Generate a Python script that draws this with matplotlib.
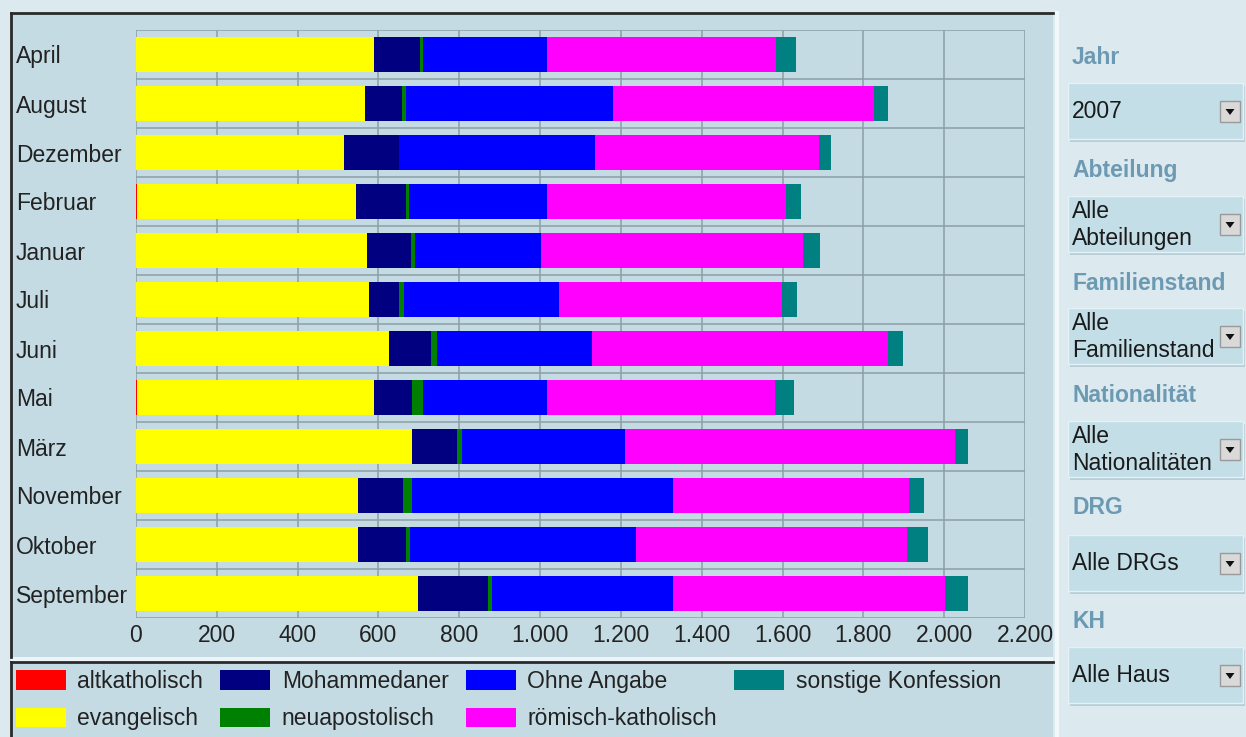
import matplotlib
matplotlib.use("Agg")
import matplotlib.pyplot as plt
from matplotlib.patches import Rectangle, Polygon
import numpy as np

plt.rcParams['font.family'] = ['Liberation Sans', 'DejaVu Sans']

months = ['April', 'August', 'Dezember', 'Februar', 'Januar', 'Juli', 'Juni',
          'Mai', 'März', 'November', 'Oktober', 'September']
altkatholisch = [0, 0, 0, 3, 0, 0, 0, 3, 0, 0, 0, 0]
evangelisch = [589, 567, 515, 542, 571, 577, 625, 586, 684, 550, 550, 698]
mohammedaner = [113, 91, 135, 124, 109, 73, 106, 95, 110, 111, 118, 173]
neuapostolisch = [8, 11, 0, 6, 10, 14, 15, 27, 12, 23, 10, 11]
ohne_angabe = [306, 512, 486, 341, 312, 382, 382, 305, 405, 644, 559, 446]
roemisch_katholisch = [569, 646, 553, 592, 649, 552, 732, 566, 816, 584, 672, 675]
sonstige = [48, 35, 31, 38, 42, 39, 39, 47, 32, 39, 50, 56]

series_names = ['altkatholisch', 'evangelisch', 'Mohammedaner', 'neuapostolisch',
                'Ohne Angabe', 'römisch-katholisch', 'sonstige Konfession']
series_values = [altkatholisch, evangelisch, mohammedaner, neuapostolisch,
                 ohne_angabe, roemisch_katholisch, sonstige]
series_colors = ['#ff0000', '#ffff00', '#000080', '#008000', '#0000ff', '#ff00ff', '#008080']

xticks = list(range(0, 2201, 200))
xticklabels = ['0', '200', '400', '600', '800', '1.000', '1.200', '1.400',
               '1.600', '1.800', '2.000', '2.200']

filters = [('Jahr', ['2007']),
           ('Abteilung', ['Alle', 'Abteilungen']),
           ('Familienstand', ['Alle', 'Familienstand']),
           ('Nationalität', ['Alle', 'Nationalitäten']),
           ('DRG', ['Alle DRGs']),
           ('KH', ['Alle Haus'])]

W, H = 1246, 737
FS = 16.5
fig = plt.figure(figsize=(W / 100, H / 100), dpi=100)
fig.patch.set_facecolor('#dce9ef')

# background decor axes in pixel coords
bg = fig.add_axes([0, 0, 1, 1], zorder=-5)
bg.set_xlim(0, W)
bg.set_ylim(H, 0)
bg.axis('off')

panel_c = '#c4dbe4'
# chart panel
bg.add_patch(Rectangle((11, 13), 1042, 644, facecolor=panel_c, edgecolor='none'))
bg.plot([11, 1053], [13, 13], color='#2a2a2a', lw=2)
bg.plot([11, 11], [13, 657], color='#2a2a2a', lw=2)
bg.plot([1057, 1057], [13, 737], color='#f2f7f9', lw=3)
# gap
bg.add_patch(Rectangle((11, 657), 1042, 5, facecolor='#eef5f8', edgecolor='none'))
# legend panel
bg.add_patch(Rectangle((11, 662), 1042, 75, facecolor=panel_c, edgecolor='none'))
bg.plot([11, 1053], [662, 662], color='#2a2a2a', lw=2)
bg.plot([11, 11], [662, 737], color='#2a2a2a', lw=2)

# right filter panel
label_y = [57, 170, 283, 395, 508, 622]
box_top = [83, 196, 308, 421, 535, 647]
box_h = 56
for (lab, lines), ly, bt in zip(filters, label_y, box_top):
    bg.text(1072, ly, lab, fontsize=16.5, fontweight='bold', color='#6c9ab3',
            ha='left', va='center')
    bg.add_patch(Rectangle((1070, bt + 3), 175, box_h, facecolor='#9fbccb',
                           edgecolor='none', alpha=0.6))
    bg.add_patch(Rectangle((1068, bt), 175, box_h, facecolor='#c3dee7',
                           edgecolor='#e6f1f5', lw=1))
    cy = bt + box_h / 2
    if len(lines) == 1:
        bg.text(1072, cy, lines[0], fontsize=FS, color='#1a1a1a', ha='left', va='center')
    else:
        bg.text(1072, cy - 13, lines[0], fontsize=FS, color='#1a1a1a', ha='left', va='center')
        bg.text(1072, cy + 14, lines[1], fontsize=FS, color='#1a1a1a', ha='left', va='center')
    bg.add_patch(Rectangle((1220, cy - 10), 20, 21, facecolor='#d9d9d9',
                           edgecolor='#9a9a9a', lw=1))
    bg.add_patch(Polygon([[1225.5, cy - 2], [1234.5, cy - 2], [1230, cy + 4]],
                         closed=True, facecolor='#111111', edgecolor='none'))

# main chart axes
left, right = 136 / W, 1025 / W
top, bottom = 1 - 30 / H, 1 - 618 / H
ax = fig.add_axes([left, bottom, right - left, top - bottom])
ax.set_facecolor('none')

y = np.arange(len(months))
cum = np.zeros(len(months))
handles = []
for name, vals, col in zip(series_names, series_values, series_colors):
    v = np.array(vals, dtype=float)
    b = ax.barh(y, v, left=cum, height=0.71, color=col, edgecolor='none',
                label=name, zorder=3)
    handles.append(b)
    cum += v

ax.set_xlim(0, 2200)
ax.set_ylim(len(months) - 0.5, -0.5)
ax.set_xticks(xticks)
ax.set_xticklabels(xticklabels)
ax.set_yticks(y)
ax.set_yticklabels(months, ha='left')
ax.set_yticks(np.arange(-0.5, len(months), 1.0), minor=True)
ax.tick_params(axis='y', which='major', length=0, pad=86.4, labelsize=FS,
               labelcolor='#222222')
ax.tick_params(axis='y', which='minor', length=0)
ax.tick_params(axis='x', length=0, pad=4, labelsize=FS, labelcolor='#222222')
ax.grid(axis='x', which='major', color='#8d9ea6', lw=1.1, zorder=0)
ax.grid(axis='y', which='minor', color='#8d9ea6', lw=1.1, zorder=0)
ax.set_axisbelow(True)
for s in ax.spines.values():
    s.set_visible(False)

leg = fig.legend(handles=handles, labels=series_names, ncol=4,
                 loc='upper left', bbox_to_anchor=(16 / W, 1 - 670 / H),
                 frameon=False, fontsize=FS, handlelength=2.18, handleheight=0.92,
                 handletextpad=0.5, columnspacing=0.75, labelspacing=0.63,
                 borderpad=0, borderaxespad=0)
for t in leg.get_texts():
    t.set_color('#222222')

fig.savefig('out.png', dpi=100, facecolor=fig.get_facecolor())
